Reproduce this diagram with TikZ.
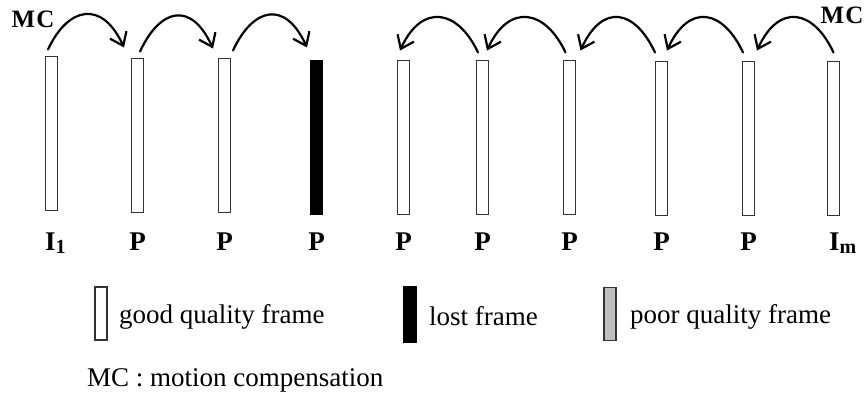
\documentclass[tikz,border=0pt]{standalone}
\usepackage{fontspec}
\setmainfont{Liberation Serif}
\usetikzlibrary{arrows.meta,calc}

\tikzset{
  frame/.style={draw=black!80, line width=1.4pt, minimum width=12pt,
    minimum height=154pt, inner sep=0pt, outer sep=0pt},
  goodframe/.style={frame, fill=white},
  lostframe/.style={frame, draw=black, fill=black},
  poorframe/.style={frame, fill=black!25},
  legendbox/.style={frame, minimum height=53pt},
  flabel/.style={anchor=base, inner sep=0pt,
    font=\fontsize{27}{27}\selectfont\bfseries},
  legendtext/.style={anchor=base west, inner sep=0pt,
    font=\fontsize{27}{27}\selectfont},
  mclabel/.style={anchor=base, inner sep=0pt,
    font=\fontsize{25}{25}\selectfont\bfseries},
  mcarrow/.style={line width=2.2pt, line cap=round,
    -{Straight Barb[length=12pt,width=18pt]}},
}
\newcommand{\subsz}{\fontsize{20}{20}\selectfont\bfseries}

\begin{document}
\begin{tikzpicture}[x=1pt, y=-1pt]
  \useasboundingbox (0,0) rectangle (866,394);

  % frame sequence
  \node[goodframe] (f1)  at (51.5,133.5) {};
  \node[goodframe] (f2)  at (137.5,135.5) {};
  \node[goodframe] (f3)  at (224.5,135.5) {};
  \node[lostframe] (f4)  at (316.5,137.5) {};
  \node[goodframe] (f5)  at (403.5,137.5) {};
  \node[goodframe] (f6)  at (482.5,137.5) {};
  \node[goodframe] (f7)  at (569.5,137.5) {};
  \node[goodframe] (f8)  at (661.5,138.5) {};
  \node[goodframe] (f9)  at (748.5,138.5) {};
  \node[goodframe] (f10) at (833.5,138.5) {};

  % frame types
  \node[flabel, anchor=base west] (l1) at (45,250) {I\raisebox{-3pt}{\subsz 1}};
  \node[flabel] (l2) at (137.5,250) {P};
  \node[flabel] (l3) at (224.5,250) {P};
  \node[flabel] (l4) at (316.5,250) {P};
  \node[flabel] (l5) at (403.5,250) {P};
  \node[flabel] (l6) at (482.5,250) {P};
  \node[flabel] (l7) at (569.5,250) {P};
  \node[flabel] (l8) at (661.5,250) {P};
  \node[flabel] (l9) at (748.5,250) {P};
  \node[flabel, anchor=base west] (l10) at (829,250) {I\raisebox{-3pt}{\subsz m}};

  % MC labels
  \node[mclabel] (mcl) at (33,27) {M\kern1pt C};
  \node[mclabel] (mcr) at (842,23) {M\kern1pt C};

  % forward motion compensation
  \draw[mcarrow] ($(f1.north)+(-3.5,-7)$) .. controls +(20,-43) and +(-22,-48) .. ($(f2.north)+(-13.5,-11)$);
  \draw[mcarrow] ($(f2.north)+(2.5,-7)$) .. controls +(20,-43) and +(-22,-48) .. ($(f3.north)+(-11.5,-10)$);
  \draw[mcarrow] ($(f3.north)+(8.5,-8)$) .. controls +(20,-43) and +(-22,-48) .. ($(f4.north)+(-9.5,-13)$);

  % backward motion compensation
  \draw[mcarrow] ($(f10.north)+(0,-9)$) .. controls +(-20,-43) and +(22,-48) .. ($(f9.north)+(8.5,-11)$);
  \draw[mcarrow] ($(f9.north)+(-5.5,-9)$) .. controls +(-20,-43) and +(22,-48) .. ($(f8.north)+(5.5,-11)$);
  \draw[mcarrow] ($(f8.north)+(-6.5,-9)$) .. controls +(-20,-43) and +(22,-48) .. ($(f7.north)+(11,-10)$);
  \draw[mcarrow] ($(f7.north)+(-4,-8)$) .. controls +(-20,-43) and +(22,-48) .. ($(f6.north)+(4.5,-10)$);
  \draw[mcarrow] ($(f6.north)+(-4.5,-8)$) .. controls +(-20,-43) and +(22,-48) .. ($(f5.north)+(-3.5,-10)$);

  % legend
  \node[legendbox, fill=white] (kgood) at (101,313.5) {};
  \node[legendtext] (tgood) at (119,323) {good quality frame};
  \node[legendbox, draw=black, fill=black, minimum width=13pt, minimum height=55pt] (klost) at (410,314.5) {};
  \node[legendtext] (tlost) at (429,325) {lost frame};
  \node[legendbox, fill=black!25] (kpoor) at (610,314) {};
  \node[legendtext] (tpoor) at (630,323) {poor quality frame};
  \node[legendtext] (tmc) at (87,386) {MC : motion compensation};
\end{tikzpicture}
\end{document}
